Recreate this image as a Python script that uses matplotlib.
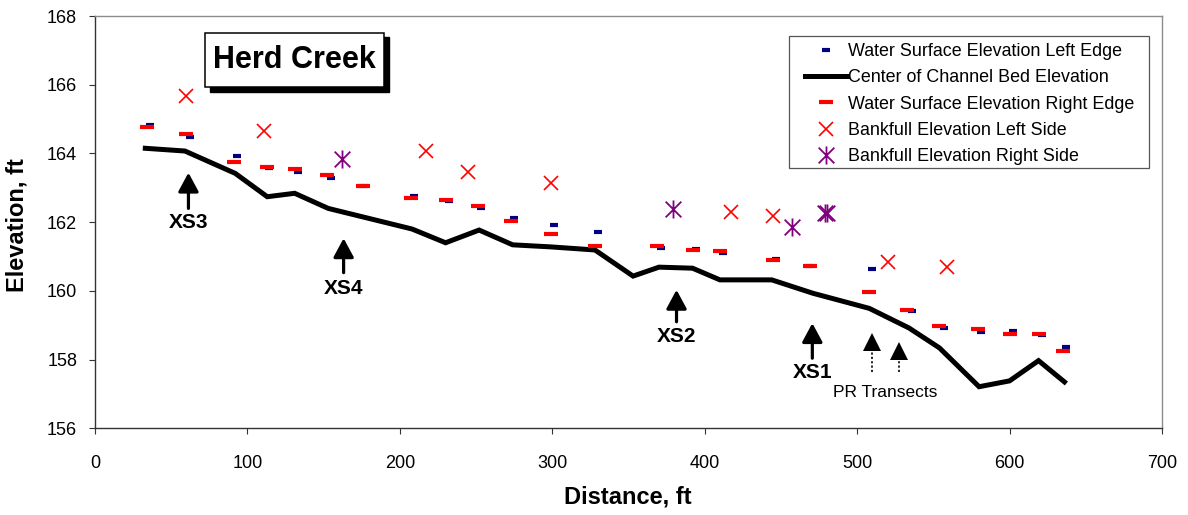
import matplotlib
matplotlib.use('Agg')
import matplotlib.pyplot as plt
from matplotlib.path import Path
from matplotlib.patches import Rectangle
from matplotlib.lines import Line2D

plt.rcParams['font.family'] = ['Liberation Sans', 'DejaVu Sans']

# ---------------- data ----------------
bed_dist = [33, 59, 92, 113, 131, 153, 175, 208, 230, 252, 274, 299, 328, 353,
            370, 392, 410, 444, 471, 508, 534, 554, 580, 600, 619, 636]
bed_elev = [164.15, 164.07, 163.42, 162.74, 162.84, 162.40, 162.16, 161.80, 161.40,
            161.77, 161.34, 161.28, 161.19, 160.43, 160.69, 160.66, 160.32, 160.32,
            159.93, 159.49, 158.92, 158.34, 157.21, 157.38, 157.97, 157.35]

ws_right_dist = [34, 60, 91, 113, 131, 152, 176, 207, 230, 251, 273, 299, 328, 369,
                 392, 410, 445, 469, 508, 533, 554, 579, 600, 619, 635]
ws_right_elev = [164.77, 164.56, 163.74, 163.60, 163.54, 163.38, 163.05, 162.70, 162.64,
                 162.46, 162.03, 161.66, 161.31, 161.31, 161.19, 161.16, 160.89, 160.73,
                 159.98, 159.45, 158.98, 158.90, 158.75, 158.75, 158.25]

ws_left_dist = [36, 62, 93, 114, 133, 155, 176, 209, 232, 253, 275, 301, 330, 371,
                394, 412, 447, 469, 510, 536, 557, 581, 602, 621, 637]
ws_left_elev = [164.83, 164.49, 163.92, 163.58, 163.47, 163.29, 163.05, 162.76, 162.61,
                162.41, 162.11, 161.92, 161.71, 161.24, 161.23, 161.09, 160.94, 160.73,
                160.64, 159.41, 158.91, 158.81, 158.83, 158.72, 158.37]

bf_left_dist = [60, 111, 217, 245, 299, 417, 445, 520, 559]
bf_left_elev = [165.66, 164.65, 164.07, 163.46, 163.14, 162.30, 162.18, 160.85, 160.69]

bf_right_dist = [162, 379, 457.5, 479, 480]
bf_right_elev = [163.84, 162.38, 161.85, 162.26, 162.28]

xs_labels = ['XS3', 'XS4', 'XS2', 'XS1']
xs_dist = [61.3, 163.1, 381.5, 470.6]
xs_tip = [163.44, 161.53, 160.03, 159.06]
xs_tail = [162.40, 160.53, 159.10, 158.04]
xs_text_y = [161.98, 160.075, 158.66, 157.62]

pr_dist = [509.6, 527.2]
pr_tip = [158.72, 158.47]
pr_base = [158.28, 158.03]
pr_tail = [157.65, 157.65]
pr_label = 'PR Transects'

legend_labels = ['Water Surface Elevation Left Edge',
                 'Center of Channel Bed Elevation',
                 'Water Surface Elevation Right Edge',
                 'Bankfull Elevation Left Side',
                 'Bankfull Elevation Right Side']

NAVY = '#000080'
RED = '#FF0000'
PURPLE = '#800080'

star = Path([(-1, -1), (1, 1), (-1, 1), (1, -1), (0, -1.15), (0, 1.15)],
            [Path.MOVETO, Path.LINETO, Path.MOVETO, Path.LINETO, Path.MOVETO, Path.LINETO])

fig = plt.figure(figsize=(11.88, 5.15), dpi=100)
ax = fig.add_axes([95 / 1188, 1 - 428.3 / 515, (1162 - 95) / 1188, (428.3 - 16) / 515])

ax.plot(bed_dist, bed_elev, color='black', lw=3.6, solid_joinstyle='miter', zorder=3)
ax.plot(ws_left_dist, ws_left_elev, ls='none', marker='_', ms=6, mew=3, color=NAVY, zorder=4)
ax.plot(ws_right_dist, ws_right_elev, ls='none', marker='_', ms=10, mew=3, color=RED, zorder=5)
ax.plot(bf_left_dist, bf_left_elev, ls='none', marker='x', ms=10, mew=1.2, color=RED, zorder=5)
ax.plot(bf_right_dist, bf_right_elev, ls='none', marker=star, ms=13, mew=1.3, color=PURPLE, zorder=5)

ax.set_xlim(0, 700)
ax.set_ylim(156, 168)
ax.set_xticks(range(0, 701, 100))
ax.set_yticks(range(156, 169, 2))
ax.tick_params(axis='both', labelsize=13, direction='out', color='#333333')
ax.tick_params(axis='x', length=4, pad=15)
ax.tick_params(axis='y', length=4.3, pad=8.5)
for s in ['left', 'bottom']:
    ax.spines[s].set_color('#333333')
    ax.spines[s].set_linewidth(1.0)
for s in ['top', 'right']:
    ax.spines[s].set_color('#8c8c8c')
    ax.spines[s].set_linewidth(1.0)

fig.text(628 / 1188, 1 - 497 / 515, 'Distance, ft', ha='center', va='center',
         fontsize=17, fontweight='bold')
fig.text(17.5 / 1188, 1 - 225 / 515, 'Elevation, ft', ha='center', va='center',
         fontsize=17, fontweight='bold', rotation=90)

# XS arrows
for lab, x, tip, tail, ty in zip(xs_labels, xs_dist, xs_tip, xs_tail, xs_text_y):
    ax.annotate('', xy=(x, tip), xytext=(x, tail),
                arrowprops=dict(arrowstyle='-|>,head_length=1.15,head_width=0.62',
                                lw=2.3, color='black', shrinkA=0, shrinkB=0,
                                mutation_scale=10), zorder=6)
    ax.text(x, ty, lab, ha='center', va='center', fontsize=15, fontweight='bold', zorder=6)

# PR transect arrows: dotted shaft + solid triangular head
for x, tip, base, tail in zip(pr_dist, pr_tip, pr_base, pr_tail):
    ax.plot([x, x], [tail, base], color='black', lw=1.2, ls=(0, (1.3, 1.3)), zorder=6)
    ax.plot([x], [(tip + base) / 2], marker='^', ms=12.5, color='black', mew=0, zorder=6)
ax.text(sum(pr_dist) / 2, 157.03, pr_label, ha='center', va='center', fontsize=12.5, zorder=6)

# Title box with shadow
bx0, bx1 = (205 - 95) / 1067, (384 - 95) / 1067
by1, by0 = 1 - (32.7 - 16) / 412.3, 1 - (87.3 - 16) / 412.3
dx, dy = 4.5 / 1067, 4.5 / 412.3
ax.add_patch(Rectangle((bx0 + dx, by0 - dy), bx1 - bx0, by1 - by0, transform=ax.transAxes,
                       facecolor='black', edgecolor='black', lw=1.0, clip_on=False, zorder=7))
ax.add_patch(Rectangle((bx0, by0), bx1 - bx0, by1 - by0, transform=ax.transAxes,
                       facecolor='white', edgecolor='black', lw=1.1, clip_on=False, zorder=8))
ax.text((bx0 + bx1) / 2, (by0 + by1) / 2, 'Herd Creek', transform=ax.transAxes,
        ha='center', va='center', fontsize=22, fontweight='bold', zorder=9)

# Legend
handles = [
    Line2D([], [], ls='none', marker='_', ms=6, mew=3, color=NAVY),
    Line2D([], [], color='black', lw=3.6),
    Line2D([], [], ls='none', marker='_', ms=10, mew=3, color=RED),
    Line2D([], [], ls='none', marker='x', ms=10, mew=1.2, color=RED),
    Line2D([], [], ls='none', marker=star, ms=13, mew=1.3, color=PURPLE),
]
lx0, lx1 = (789 - 95) / 1067, (1149 - 95) / 1067
ly1, ly0 = 1 - (35.7 - 16) / 412.3, 1 - (167.7 - 16) / 412.3
ax.add_patch(Rectangle((lx0, ly0), lx1 - lx0, ly1 - ly0, transform=ax.transAxes,
                       facecolor='white', edgecolor='#555555', lw=0.9, zorder=7))
leg = ax.legend(handles, legend_labels, loc='upper left',
                bbox_to_anchor=((805 - 95) / 1067, 1 - (43 - 16) / 412.3),
                frameon=False, borderpad=0, borderaxespad=0, fontsize=12.9,
                handlelength=2.35, handletextpad=0.05, labelspacing=0.52, numpoints=1)
leg.set_zorder(8)

fig.savefig('out.png', dpi=100)
